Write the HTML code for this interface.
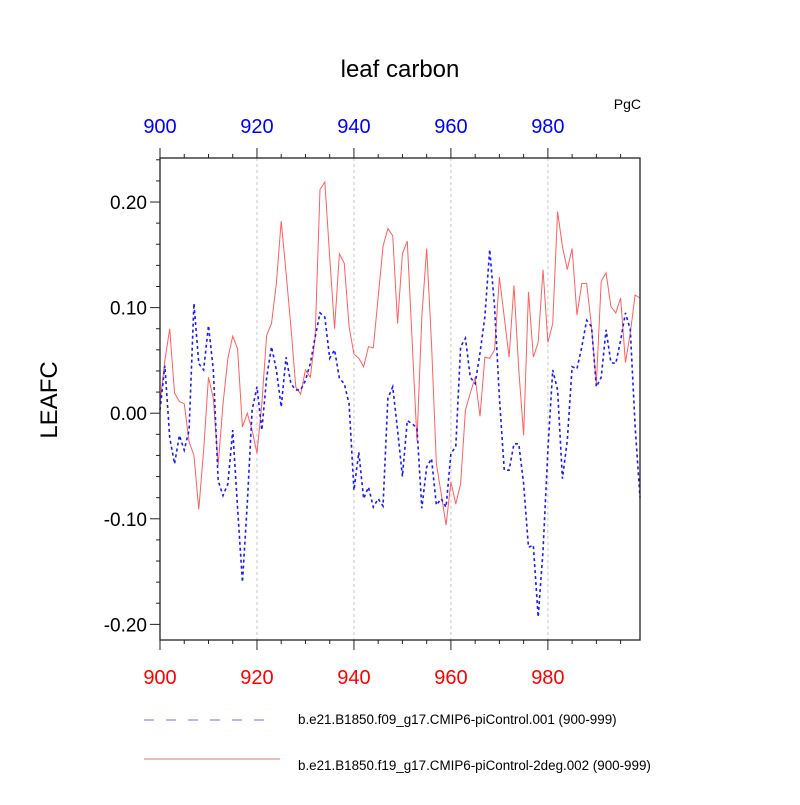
<!DOCTYPE html>
<html><head><meta charset="utf-8"><style>
body{margin:0;background:#fff}
svg{font-family:"Liberation Sans",sans-serif}
</style></head><body>
<svg id="chart" width="800" height="800" xmlns="http://www.w3.org/2000/svg">
<rect width="800" height="800" fill="#fff"/>
<g id="grid"></g>
<g id="series"></g>
<g id="axes"></g>
<text x="400" y="77" font-size="24" text-anchor="middle">leaf carbon</text>
<text x="641" y="109" font-size="14" text-anchor="end">PgC</text>
<text transform="translate(57,400) rotate(-90)" font-size="24" text-anchor="middle">LEAFC</text>
<g>
<line x1="144" y1="720" x2="276" y2="720" stroke="#6f6fff" stroke-width="1" stroke-dasharray="10,12"/>
<text x="298" y="724" font-size="13.4">b.e21.B1850.f09_g17.CMIP6-piControl.001 (900-999)</text>
<line x1="144" y1="759" x2="280" y2="759" stroke="#f07070" stroke-width="1"/>
<text x="298" y="770" font-size="13.4">b.e21.B1850.f19_g17.CMIP6-piControl-2deg.002 (900-999)</text>
</g>
</svg>
<script>
const years = [];
for (let y = 900; y <= 999; y++) years.push(y);
const blueValues = [0.003,0.045,-0.023,-0.048,-0.021,-0.035,-0.016,0.104,0.047,0.041,0.083,0.041,-0.064,-0.078,-0.067,-0.016,-0.090,-0.160,-0.086,0.003,0.025,-0.016,0.034,0.063,0.041,0.006,0.053,0.028,0.022,0.022,0.031,0.047,0.072,0.095,0.091,0.052,0.060,0.033,0.028,0.009,-0.073,-0.037,-0.081,-0.070,-0.089,-0.081,-0.088,0.014,0.025,-0.016,-0.060,-0.007,-0.010,-0.014,-0.090,-0.051,-0.043,-0.087,-0.081,-0.089,-0.038,-0.032,0.063,0.071,0.034,0.028,0.057,0.091,0.155,0.101,0.015,-0.054,-0.054,-0.029,-0.029,-0.067,-0.127,-0.125,-0.193,-0.130,-0.035,0.041,0.022,-0.062,-0.026,0.044,0.042,0.063,0.088,0.082,0.025,0.034,0.079,0.048,0.047,0.069,0.095,0.079,-0.013,-0.080];
const redValues = [0.009,0.050,0.080,0.019,0.011,0.009,-0.027,-0.040,-0.091,-0.035,0.034,0.014,-0.049,0.009,0.052,0.073,0.061,-0.013,0.000,-0.016,-0.038,0.009,0.074,0.085,0.123,0.182,0.133,0.082,0.025,0.018,0.041,0.034,0.072,0.212,0.219,0.148,0.080,0.151,0.142,0.082,0.056,0.052,0.044,0.063,0.062,0.110,0.158,0.175,0.168,0.085,0.151,0.163,0.069,-0.026,0.091,0.156,0.066,-0.048,-0.076,-0.106,-0.065,-0.086,-0.067,0.003,0.019,0.034,-0.003,0.053,0.052,0.060,0.129,0.091,0.053,0.121,0.041,-0.021,0.115,0.053,0.067,0.136,0.067,0.085,0.191,0.158,0.136,0.156,0.093,0.123,0.123,0.082,0.028,0.125,0.133,0.101,0.095,0.109,0.048,0.076,0.112,0.109];
const xTickLabels = ["900","920","940","960","980"];
const yTickLabels = ["-0.20","-0.10","0.00","0.10","0.20"];

const X0=160,X1=640,Y0=158,Y1=640;
const xMin=900,xMax=999,yMin=-0.2148,yMax=0.2417;
const xs=v=>X0+(v-xMin)/(xMax-xMin)*(X1-X0);
const ys=v=>Y1-(v-yMin)/(yMax-yMin)*(Y1-Y0);
const NS="http://www.w3.org/2000/svg";
function mk(tag,attrs,parent){const e=document.createElementNS(NS,tag);for(const k in attrs)e.setAttribute(k,attrs[k]);parent.appendChild(e);return e;}
const grid=document.getElementById('grid'),axes=document.getElementById('axes'),series=document.getElementById('series');

xTickLabels.slice(1).forEach(t=>{
  const l=mk('line',{x1:xs(+t),x2:xs(+t),y1:Y0,y2:Y1,stroke:'#c8c8c8','stroke-width':1,'stroke-dasharray':'3,3'},grid);
  
  
});

function path(vals,color,dash,name){
  let d='';vals.forEach((v,i)=>{d+=(i?'L':'M')+xs(years[i]).toFixed(2)+','+ys(v).toFixed(2);});
  const p=mk('path',{d:d,fill:'none',stroke:color,'stroke-width':dash?1.6:1},series);
  if(dash)p.setAttribute('stroke-dasharray',dash);
  
  
}
path(redValues,'#ff6060',null,'series-2deg-002-line');
path(blueValues,'#1a1aff','3,3','series-piControl-001-line');

const frame=mk('rect',{x:X0,y:Y0,width:X1-X0,height:Y1-Y0,fill:'none',stroke:'#222','stroke-width':1.3},axes);



for(let y=900;y<=999;y+=5){
  const major=(y%20===0),len=major?10:4,x=xs(y);
  const tb=mk('line',{x1:x,x2:x,y1:Y1,y2:Y1+len,stroke:'#222','stroke-width':1},axes);
  
  
  const tt=mk('line',{x1:x,x2:x,y1:Y0,y2:Y0-len,stroke:'#222','stroke-width':1},axes);
  
  
}
xTickLabels.forEach(t=>{
  const b=mk('text',{x:xs(+t),y:684,'font-size':20,fill:'#ff0000','text-anchor':'middle'},axes);
  b.textContent=t;
  
  
  const a=mk('text',{x:xs(+t),y:133,'font-size':20,fill:'#0000ff','text-anchor':'middle'},axes);
  a.textContent=t;
  
  
});
for(let k=-10;k<=12;k++){
  const v=k*0.02,yy=ys(v),major=(k%5===0),len=major?10:4;
  const tl=mk('line',{x1:X0,x2:X0-len,y1:yy,y2:yy,stroke:'#222','stroke-width':1},axes);
  
  
}
yTickLabels.forEach(t=>{
  const e=mk('text',{x:147,y:ys(parseFloat(t))+7,'font-size':19,'text-anchor':'end'},axes);
  e.textContent=t;
  
  
});
</script>
</body></html>
